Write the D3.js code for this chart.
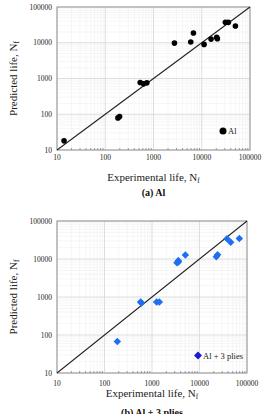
<!DOCTYPE html>
<html>
<head>
<meta charset="utf-8">
<script src="https://cdn.jsdelivr.net/npm/d3@7"></script>
<style>
  body { margin: 0; background: #fff; }
  svg { display: block; font-family: "Liberation Serif", "DejaVu Serif", serif; }
</style>
</head>
<body>
<div id="chart"></div>
<script>
// tick values shared by both panels
const tickValues = [10, 100, 1000, 10000, 100000];

// panel (a) Al : experimental vs predicted life
const alExp  = [14, 183, 198, 530, 621, 728, 2716, 5913, 6724, 11170, 15600, 20420, 21080, 30900, 35650, 49800];
const alPred = [18, 79, 86, 773, 708, 756, 9790, 10450, 18660, 8980, 12670, 14130, 12950, 37150, 37150, 29300];

// panel (b) Al + 3 plies
const plyExp  = [186, 577, 600, 1253, 1426, 3358, 3580, 3600, 5040, 22600, 24100, 37900, 45300, 69000];
const plyPred = [67, 741, 700, 741, 741, 8020, 9060, 8300, 12700, 11500, 12970, 33900, 27700, 34600];

const W = 263, H = 414;
const svg = d3.select("#chart").append("svg")
    .attr("width", W)
    .attr("height", H);

function drawPanel(opt) {
    const x = d3.scaleLog().domain([10, 100000]).range([opt.left, opt.right]);
    const y = d3.scaleLog().domain([10, 100000]).range([opt.bottom, opt.top]);
    const g = svg.append("g");

    // minor + major grid
    const minor = [];
    for (let d = 10; d < 100000; d *= 10) {
        for (let k = 2; k < 10; k++) minor.push(d * k);
    }
    g.selectAll(".vminor").data(minor).enter().append("line")
        .attr("x1", d => x(d)).attr("x2", d => x(d))
        .attr("y1", opt.top).attr("y2", opt.bottom)
        .attr("stroke", "#f0f0f0").attr("stroke-width", 0.6);
    g.selectAll(".hminor").data(minor).enter().append("line")
        .attr("y1", d => y(d)).attr("y2", d => y(d))
        .attr("x1", opt.left).attr("x2", opt.right)
        .attr("stroke", "#f0f0f0").attr("stroke-width", 0.6);
    g.selectAll(".vmajor").data(tickValues).enter().append("line")
        .attr("x1", d => x(d)).attr("x2", d => x(d))
        .attr("y1", opt.top).attr("y2", opt.bottom)
        .attr("stroke", "#d6d6d6").attr("stroke-width", 0.8);
    g.selectAll(".hmajor").data(tickValues).enter().append("line")
        .attr("y1", d => y(d)).attr("y2", d => y(d))
        .attr("x1", opt.left).attr("x2", opt.right)
        .attr("stroke", "#d6d6d6").attr("stroke-width", 0.8);

    // minor tick marks on the bottom axis
    g.selectAll(".mtick").data(minor).enter().append("line")
        .attr("x1", d => x(d)).attr("x2", d => x(d))
        .attr("y1", opt.bottom).attr("y2", opt.bottom - 2)
        .attr("stroke", "#777").attr("stroke-width", 0.7);

    // frame
    g.append("rect")
        .attr("x", opt.left).attr("y", opt.top)
        .attr("width", opt.right - opt.left).attr("height", opt.bottom - opt.top)
        .attr("fill", "none").attr("stroke", "#8c8c8c").attr("stroke-width", 0.9);

    // tick labels
    g.selectAll(".xl").data(tickValues).enter().append("text")
        .attr("x", d => x(d)).attr("y", opt.bottom + opt.xLabelDy)
        .attr("text-anchor", "middle").attr("font-size", 7.5).attr("fill", "#222")
        .text(d => d);
    g.selectAll(".yl").data(tickValues).enter().append("text")
        .attr("x", opt.left - 5).attr("y", d => y(d) + 2.5)
        .attr("text-anchor", "end").attr("font-size", 7.5).attr("fill", "#222")
        .text(d => d);

    // 1:1 line
    g.append("line")
        .attr("x1", x(10)).attr("y1", y(10))
        .attr("x2", x(100000)).attr("y2", y(100000))
        .attr("stroke", "#222").attr("stroke-width", 1.1);

    // points
    const pts = opt.xs.map((v, i) => [v, opt.ys[i]]);
    if (opt.shape === "circle") {
        g.selectAll(".pt").data(pts).enter().append("circle")
            .attr("cx", d => x(d[0])).attr("cy", d => y(d[1]))
            .attr("r", 2.8).attr("fill", "#000");
    } else {
        const sym = d3.symbol().type(d3.symbolDiamond2).size(36);
        g.selectAll(".pt").data(pts).enter().append("path")
            .attr("d", sym)
            .attr("transform", d => `translate(${x(d[0])},${y(d[1])})`)
            .attr("fill", "#1f6ff0");
    }

    // legend
    if (opt.shape === "circle") {
        g.append("circle").attr("cx", opt.legX).attr("cy", opt.legY).attr("r", 3.5).attr("fill", "#000");
    } else {
        g.append("path").attr("d", d3.symbol().type(d3.symbolDiamond2).size(40))
            .attr("transform", `translate(${opt.legX},${opt.legY})`)
            .attr("fill", "#1a1ad6");
    }
    g.append("text")
        .attr("x", opt.legX + 5).attr("y", opt.legY + 3)
        .attr("font-size", 8.5).attr("fill", "#222")
        .text(opt.legend);

    // axis titles
    const cx = (opt.left + opt.right) / 2;
    const xt = g.append("text")
        .attr("x", cx).attr("y", opt.xTitleY)
        .attr("text-anchor", "middle").attr("font-size", 11).attr("fill", "#222")
        .text("Experimental life, N");
    xt.append("tspan").attr("font-size", 7.5).attr("dy", 2).text("f");

    const cy = (opt.top + opt.bottom) / 2;
    const yt = g.append("text")
        .attr("transform", `translate(${opt.yTitleX},${cy}) rotate(-90)`)
        .attr("text-anchor", "middle").attr("font-size", 11).attr("fill", "#222")
        .text("Predicted life, N");
    yt.append("tspan").attr("font-size", 7.5).attr("dy", 2).text("f");

    // caption
    g.append("text")
        .attr("x", cx).attr("y", opt.captionY)
        .attr("text-anchor", "middle").attr("font-size", 10).attr("font-weight", "bold")
        .attr("fill", "#111")
        .text(opt.caption);
}

drawPanel({
    left: 57, right: 250, top: 7, bottom: 150,
    xs: alExp, ys: alPred, shape: "circle",
    legend: "Al", legX: 223, legY: 131,
    xLabelDy: 10, xTitleY: 181, yTitleX: 17, captionY: 196,
    caption: "(a) Al"
});

drawPanel({
    left: 57, right: 247, top: 221, bottom: 373,
    xs: plyExp, ys: plyPred, shape: "diamond",
    legend: "Al + 3 plies", legX: 198, legY: 355.5,
    xLabelDy: 13, xTitleY: 397, yTitleX: 17, captionY: 416,
    caption: "(b) Al + 3 plies"
});
</script>
</body>
</html>
